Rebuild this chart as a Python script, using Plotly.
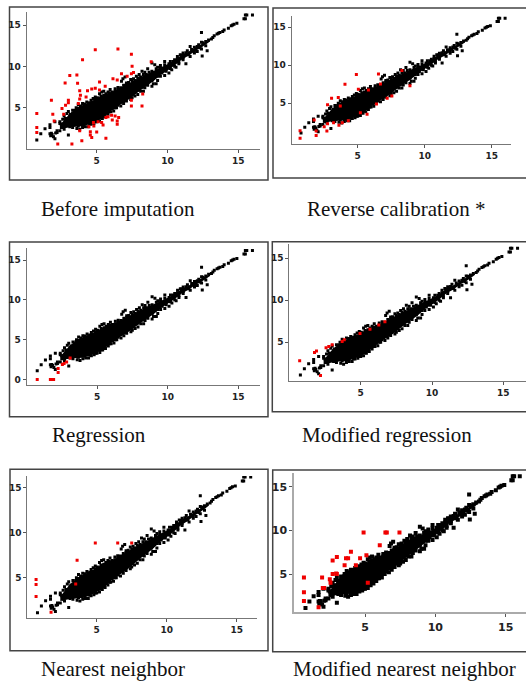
import plotly.graph_objects as go

# ---------- data (axis units) ----------
titles = ["Before imputation", "Reverse calibration *", "Regression",
          "Modified regression", "Nearest neighbor", "Modified nearest neighbor"]

# Envelope of the overplotted core of the black cloud (too dense to read single points)
core_x = [2.4, 3.0, 3.5, 4.0, 4.5, 5.0, 5.5, 6.0, 6.5, 7.0, 7.5, 8.0, 8.5, 9.0, 9.5, 10.0, 10.5, 11.0, 11.5, 12.0, 12.5, 13.0]
core_lo = [2.4, 2.6, 2.7, 2.75, 3.0, 3.4, 3.85, 4.6, 5.2, 5.7, 6.3, 7.0, 7.6, 8.2, 8.95, 9.5, 10.1, 10.8, 11.3, 11.9, 12.4, 13.0]
core_hi = [2.9, 4.1, 4.8, 5.3, 5.7, 6.1, 6.6, 6.85, 7.25, 7.75, 8.15, 8.65, 9.0, 9.45, 9.85, 10.25, 10.7, 11.4, 11.8, 12.3, 12.8, 13.2]

# Individually readable black points: tails, cloud edges, outliers
tail_x = [0.77, 1.05, 1.35, 1.7, 1.7, 1.7, 1.75, 1.85, 1.95, 2.05, 2.1, 2.05, 2.4, 3.0, 1.8, 2.2]
tail_y = [1.1, 1.85, 2.45, 1.85, 2.6, 2.95, 1.6, 1.75, 1.5, 1.25, 1.95, 3.3, 3.1, 1.7, 1.9, 2.2]
top_x = [2.4, 2.6, 2.7, 2.9, 3.0, 3.15, 3.3, 3.4, 3.55, 3.7, 3.85, 4.0, 4.15, 4.3, 4.45, 4.6, 4.75, 4.9, 5.05, 5.2,
         5.35, 5.5, 5.65, 5.8, 5.95, 6.1, 6.3, 6.5, 6.7, 6.75, 6.85, 7.0, 7.1, 7.25, 7.4, 7.6, 7.8, 8.0, 8.2, 8.4,
         8.6, 8.9, 9.1, 9.3, 9.5, 9.8, 10.2, 10.5, 10.7, 10.9, 11.1, 11.4, 11.6, 11.9, 12.2, 12.4, 12.7, 12.9]
top_y = [3.3, 3.6, 4.0, 4.3, 4.55, 4.2, 4.7, 4.45, 5.0, 5.35, 5.2, 5.5, 5.45, 5.7, 5.5, 5.9, 6.1, 6.3, 6.2, 6.7,
         6.9, 7.0, 6.7, 6.9, 7.2, 6.9, 7.3, 7.45, 7.4, 8.2, 8.5, 8.7, 8.0, 8.05, 8.4, 8.5, 8.8, 9.0, 9.4, 9.3,
         9.7, 10.4, 10.2, 9.9, 10.1, 10.6, 10.6, 10.8, 11.2, 11.4, 11.6, 11.9, 12.4, 12.3, 12.6, 12.9, 13.0, 13.2]
low_x = [2.2, 2.4, 2.7, 3.3, 3.6, 3.8, 4.0, 4.2, 4.4, 4.6, 4.8, 5.0, 5.2, 5.4, 5.6, 5.8, 6.0, 6.2, 6.4, 6.7,
         6.9, 7.1, 7.4, 7.5, 7.7, 7.9, 8.1, 8.3, 8.4, 8.6, 8.9, 9.0, 9.2, 9.3, 9.5, 9.8, 10.1, 10.3, 10.6, 10.8,
         11.1, 11.3, 11.6, 11.9, 12.1, 12.4, 12.7]
low_y = [2.0, 2.2, 2.4, 2.6, 2.5, 2.4, 2.6, 2.7, 2.7, 3.0, 3.1, 3.3, 3.4, 3.7, 3.9, 4.2, 4.5, 4.6, 5.0, 5.2,
         5.5, 5.8, 6.0, 6.2, 6.4, 6.6, 7.0, 7.0, 7.4, 7.7, 7.6, 7.9, 7.9, 8.3, 8.8, 8.9, 9.2, 9.6, 9.9, 10.3,
         10.8, 10.3, 11.2, 11.6, 11.8, 12.1, 12.5]
inner_low_x = [2.6, 2.9, 3.1, 3.4, 3.7, 3.9, 4.1, 4.3, 4.5, 4.7, 4.9, 5.1, 5.3, 5.5, 5.7, 5.9, 6.1, 6.3, 6.5, 6.7, 6.9,
               7.1, 7.3, 7.5, 7.7, 7.9, 8.1, 8.3, 8.5, 8.7, 8.9, 9.1, 9.3, 9.6, 9.9, 10.2, 10.5, 10.8, 11.1, 11.5, 11.9, 12.3]
inner_low_y = [2.6, 2.9, 2.7, 2.95, 2.8, 3.1, 2.95, 3.2, 3.05, 3.4, 3.3, 3.7, 3.75, 4.0, 4.35, 4.5, 4.9, 5.0, 5.3, 5.7, 5.9,
               6.2, 6.4, 6.6, 7.0, 7.1, 7.5, 7.5, 7.95, 8.3, 8.3, 8.7, 8.8, 9.2, 9.4, 9.75, 10.0, 10.5, 11.05, 11.4, 11.85, 12.25]
inner_top_x = [2.5, 2.8, 3.1, 3.3, 3.5, 3.7, 3.9, 4.1, 4.3, 4.5, 4.7, 4.9, 5.1, 5.3, 5.5, 5.7, 5.9, 6.1, 6.3, 6.5, 6.7, 6.9,
               7.1, 7.3, 7.5, 7.7, 7.9, 8.1, 8.3, 8.5, 8.7, 8.9, 9.2, 9.5, 9.8, 10.1, 10.4, 10.7, 11.0, 11.3, 11.7, 12.1, 12.5]
inner_top_y = [3.0, 3.7, 4.0, 4.3, 4.7, 4.9, 5.1, 5.2, 5.3, 5.6, 5.65, 6.0, 6.05, 6.4, 6.5, 6.55, 6.8, 6.75, 7.0, 7.15, 7.3, 7.7,
               7.8, 7.85, 8.2, 8.3, 8.6, 8.7, 9.0, 9.0, 9.3, 9.4, 9.7, 9.8, 10.2, 10.3, 10.6, 10.9, 11.35, 11.65, 12.05, 12.4, 12.85]
head_x = [12.4, 12.8, 12.45, 13.1, 13.2, 13.3, 13.5, 13.6, 13.7, 13.9, 14.0, 14.3, 14.5, 14.6, 14.7, 14.9, 15.4, 15.5, 15.5, 15.6, 16.0]
head_y = [14.1, 11.9, 11.25, 13.3, 13.5, 13.7, 13.9, 14.0, 14.1, 14.2, 14.4, 14.6, 14.9, 15.0, 15.1, 15.2, 15.75, 15.75, 16.2, 16.2, 16.2]

red_x = [
    [0.77, 0.77, 0.77, 1.8, 1.9, 2.0, 2.25, 3.25, 3.95, 2.77, 3.1, 3.6, 3.65, 4.0, 4.9, 6.5, 7.45, 7.5, 8.85, 5.2,
     6.15, 6.45, 6.75, 7.15, 7.45, 7.6, 3.0, 3.0, 2.8, 2.55, 2.67, 3.8, 3.85, 3.8, 3.7, 4.25, 4.35, 4.65, 4.9, 5.2,
     5.6, 3.8, 4.45, 4.77, 5.1, 5.35, 5.65, 6.05, 6.3, 6.55, 6.45, 6.45, 4.55, 4.65, 5.0, 5.65, 7.45, 8.2, 7.45, 8.25,
     5.45, 5.8, 6.1, 4.55, 4.8],
    [0.7, 0.7, 1.9, 1.9, 1.75, 3.05, 3.55, 2.75, 4.05, 4.9, 6.55, 8.3, 8.9, 2.5, 2.75, 2.7, 3.2, 3.6, 3.85, 4.3,
     5.7, 5.2, 6.4, 7.2, 7.55, 6.7, 5.8, 5.05, 3.7],
    [0.77, 1.7, 1.8, 1.93, 2.25, 2.25, 2.55, 2.67, 2.85, 3.1],
    [0.72, 1.76, 1.9, 2.18, 2.57, 2.76, 3.0, 3.7, 3.85, 4.95, 5.65, 6.27, 6.7],
    [0.67, 0.67, 0.67, 1.74, 3.6, 4.9, 6.5, 7.5, 3.5],
    [0.66, 0.66, 0.66, 1.7, 1.95, 2.0, 2.1, 2.5, 2.55, 2.7, 2.95, 3.0, 2.7, 3.0, 3.65, 3.8, 4.0, 3.55, 4.65, 4.35,
     4.9, 6.45, 6.55, 7.45, 6.05, 5.1, 5.2],
]
red_y = [
    [4.3, 2.6, 2.0, 5.9, 4.2, 3.4, 0.6, 0.6, 1.0, 8.0, 8.9, 8.95, 7.95, 10.8, 12.0, 12.1, 11.45, 10.0, 10.55, 8.1,
     8.5, 8.35, 9.1, 8.8, 9.1, 9.25, 5.9, 5.6, 5.3, 4.9, 4.2, 7.05, 6.5, 6.05, 5.5, 6.3, 7.05, 7.25, 7.35, 7.15,
     7.6, 2.2, 2.7, 3.2, 3.3, 3.2, 3.8, 4.1, 4.0, 3.8, 3.4, 3.0, 1.7, 1.4, 2.05, 1.3, 5.2, 5.2, 5.9, 6.65,
     2.9, 3.9, 3.5, 2.1, 2.8],
    [1.4, 0.4, 1.35, 0.75, 2.8, 5.65, 5.75, 4.8, 7.5, 8.8, 8.85, 9.3, 7.3, 1.9, 2.3, 1.35, 2.45, 2.1, 2.45, 2.7,
     3.55, 3.75, 4.9, 5.65, 5.95, 7.55, 6.75, 6.85, 4.65],
    [0.0, 0.0, 0.0, 0.0, 0.9, 1.4, 1.9, 2.0, 2.2, 2.7],
    [2.8, 3.8, 3.95, 1.05, 4.35, 4.5, 4.7, 5.1, 5.3, 6.05, 6.55, 7.05, 7.45],
    [4.8, 4.25, 2.9, 1.15, 6.95, 8.85, 8.85, 8.85, 4.3],
    [4.6, 2.9, 1.9, 1.2, 4.6, 3.4, 3.4, 4.4, 4.0, 5.0, 5.05, 5.0, 6.55, 6.95, 6.8, 6.8, 7.55, 6.0, 6.8, 6.0,
     9.75, 9.75, 9.75, 9.75, 8.3, 7.15, 4.0],
]
x_ticks = [5, 10, 15]
y_ticks = [[5, 10, 15], [5, 10, 15], [0, 5, 10, 15], [5, 10, 15], [5, 10, 15], [5, 10, 15]]

# ---------- layout (pixels in the 526x682 picture) ----------
W, H = 526, 682
# frame l,r,t,b / axis left, axis right, axis top, axis bottom / px of x=5, x=15 / px of y=5, y=15
panels = [
    dict(f=(9.5, 268, 7, 180),    a=(26.5, 260, 12, 149),     xp=(96.7, 238.3), yp=(107.7, 25)),
    dict(f=(273, 527, 8, 178),    a=(291.7, 511, 16, 144),    xp=(357.7, 491.7), yp=(103.3, 27.3)),
    dict(f=(9.5, 268, 242, 416.7), a=(26.5, 260, 247.7, 385), xp=(97, 238.3), yp=(339.7, 260)),
    dict(f=(272.3, 527, 241.7, 411.7), a=(289.3, 526, 244.3, 381), xp=(360.7, 503.3), yp=(342.3, 258.3)),
    dict(f=(10, 268, 469.3, 650.7), a=(27.3, 256.7, 476, 618.3), xp=(96.7, 236.7), yp=(577.7, 487.7)),
    dict(f=(272.7, 527, 470, 651.7), a=(294.3, 526, 473.3, 612.3), xp=(365, 505.7), yp=(574, 486.7)),
]
title_pos = [(117.5, 209), (396, 209), (99, 435), (387, 435), (113, 669), (404, 669)]
marker_px = [3, 3, 3, 3, 3, 4]
tick_px = [9, 9, 9, 9, 9, 11]
axis_w = [1, 1, 1, 1, 1, 2]
axis_c = ["#777", "#777", "#777", "#777", "#777", "#aaa"]

black_x = tail_x + top_x + low_x + inner_low_x + inner_top_x + head_x
black_y = tail_y + top_y + low_y + inner_low_y + inner_top_y + head_y
poly_x = core_x + core_x[::-1]
poly_y = core_lo + core_hi[::-1]

fig = go.Figure()
layout = dict(width=W, height=H, margin=dict(l=0, r=0, t=0, b=0, autoexpand=False),
              paper_bgcolor="white", plot_bgcolor="white", showlegend=False)
shapes, annotations = [], []
for i, p in enumerate(panels):
    n = i + 1
    al, ar, at, ab = p["a"]
    sx = (p["xp"][1] - p["xp"][0]) / 10
    sy = (p["yp"][0] - p["yp"][1]) / 10
    x_rng = [5 + (al - p["xp"][0]) / sx, 5 + (ar - p["xp"][0]) / sx]
    y_rng = [5 - (ab - p["yp"][0]) / sy, 5 - (at - p["yp"][0]) / sy]
    ax = dict(showgrid=False, zeroline=False, showline=True, linecolor=axis_c[i], linewidth=axis_w[i],
              ticks="outside", ticklen=3, tickwidth=1, tickcolor="#555",
              tickfont=dict(family="DejaVu Sans", size=tick_px[i], color="#222", weight="bold"),
              fixedrange=True)
    layout[f"xaxis{n}"] = dict(ax, domain=[al / W, min(ar / W, 1)], range=x_rng, tickvals=x_ticks,
                               anchor=f"y{n}")
    layout[f"yaxis{n}"] = dict(ax, domain=[1 - ab / H, 1 - at / H], range=y_rng, tickvals=y_ticks[i],
                               anchor=f"x{n}")
    fig.add_trace(go.Scatter(x=poly_x, y=poly_y, mode="none", fill="toself", fillcolor="black",
                             xaxis=f"x{n}", yaxis=f"y{n}", hoverinfo="skip"))
    fig.add_trace(go.Scatter(x=black_x, y=black_y, mode="markers", xaxis=f"x{n}", yaxis=f"y{n}",
                             marker=dict(symbol="square", size=marker_px[i], color="black", line_width=0)))
    fig.add_trace(go.Scatter(x=red_x[i], y=red_y[i], mode="markers", xaxis=f"x{n}", yaxis=f"y{n}",
                             marker=dict(symbol="square", size=marker_px[i], color="#f00000", line_width=0)))
    fl, fr, ft, fb = p["f"]
    shapes.append(dict(type="rect", xref="paper", yref="paper", x0=fl / W, x1=fr / W,
                       y0=1 - fb / H, y1=1 - ft / H, line=dict(color="#444", width=1.5), layer="below"))
    tx, ty = title_pos[i]
    annotations.append(dict(text=titles[i], xref="paper", yref="paper", x=tx / W, y=1 - ty / H,
                            xanchor="center", yanchor="middle", showarrow=False,
                            font=dict(family="Liberation Serif", size=21, color="#111")))
layout["shapes"] = shapes
layout["annotations"] = annotations
fig.update_layout(**layout)
fig.write_html("out.html", config={"displayModeBar": False},
               post_script="document.body.style.margin='0';document.documentElement.style.overflow='hidden';")
